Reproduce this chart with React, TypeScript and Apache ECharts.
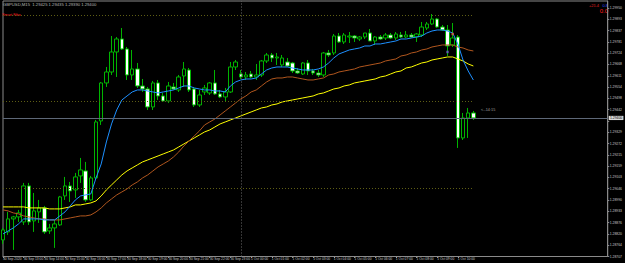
import React, { useEffect, useRef } from "react";
import * as echarts from "echarts";

// ---- data (GBPUSD, M15) ----
const tickLabels = [
  "30 Sep 2020", "30 Sep 13:00", "30 Sep 14:00", "30 Sep 15:00", "30 Sep 16:00", "30 Sep 17:00",
  "30 Sep 18:00", "30 Sep 19:00", "30 Sep 20:00", "30 Sep 21:00", "30 Sep 22:00", "30 Sep 23:00",
  "1 Oct 00:00", "1 Oct 01:00", "1 Oct 02:00", "1 Oct 03:00", "1 Oct 04:00", "1 Oct 05:00",
  "1 Oct 06:00", "1 Oct 07:00", "1 Oct 08:00", "1 Oct 09:00", "1 Oct 10:00",
];

const opens = [
  1.2879, 1.2883, 1.28895, 1.28905, 1.2888, 1.2906, 1.28885, 1.2893, 1.2895, 1.28835,
  1.2885, 1.28865, 1.2901, 1.2906, 1.2904, 1.2911, 1.29135, 1.2899, 1.2910, 1.29385,
  1.29575, 1.2963, 1.2973, 1.29795, 1.29745, 1.29615, 1.29645, 1.2956, 1.29545, 1.29455,
  1.29575, 1.2951, 1.29485, 1.29555, 1.2954, 1.2961, 1.2964, 1.29545, 1.29465, 1.2953,
  1.29525, 1.29575, 1.2952, 1.29505, 1.2953, 1.29655, 1.2962, 1.29605, 1.2962, 1.29605,
  1.29615, 1.29685, 1.29715, 1.2970, 1.29665, 1.2968, 1.29675, 1.29635, 1.2962, 1.29675,
  1.29635, 1.29625, 1.29615, 1.29725, 1.29725, 1.2981, 1.2978, 1.29805, 1.2981, 1.29795,
  1.29805, 1.29825, 1.29785, 1.29805, 1.2980, 1.29815, 1.2980, 1.29815, 1.29805, 1.29815,
  1.29805, 1.29815, 1.2985, 1.2987, 1.29895, 1.29855, 1.2984, 1.29765, 1.29805, 1.2930,
  1.2940, 1.29425,
];
const highs = [
  1.2885, 1.2893, 1.2891, 1.2894, 1.29075, 1.29075, 1.29025, 1.2899, 1.2896, 1.2887,
  1.2889, 1.2901, 1.29105, 1.2908, 1.29125, 1.2920, 1.2918, 1.2911, 1.2939, 1.2958,
  1.29655, 1.2981, 1.29805, 1.2985, 1.29755, 1.2974, 1.29675, 1.29595, 1.29555, 1.29585,
  1.2959, 1.29525, 1.2958, 1.29575, 1.29615, 1.2968, 1.2965, 1.29555, 1.2954, 1.29565,
  1.2958, 1.2964, 1.2954, 1.2955, 1.2968, 1.2969, 1.2964, 1.2963, 1.29635, 1.2967,
  1.2969, 1.29725, 1.29725, 1.29725, 1.29715, 1.2970, 1.2968, 1.2965, 1.2968, 1.2969,
  1.29645, 1.2964, 1.2973, 1.2974, 1.2982, 1.29825, 1.29825, 1.2983, 1.29815, 1.2981,
  1.29825, 1.29845, 1.2981, 1.29815, 1.29825, 1.29825, 1.2983, 1.2983, 1.29835, 1.29825,
  1.29825, 1.2988, 1.2988, 1.2992, 1.2990, 1.29865, 1.29865, 1.29875, 1.29815, 1.29425,
  1.2945, 1.29435,
];
const lows = [
  1.2877, 1.28815, 1.2874, 1.2888, 1.28865, 1.28865, 1.2883, 1.28875, 1.2882, 1.2882,
  1.2875, 1.2886, 1.2899, 1.2898, 1.2900, 1.29075, 1.2898, 1.28985, 1.2909, 1.29365,
  1.29555, 1.29615, 1.29605, 1.2974, 1.2959, 1.2959, 1.2955, 1.2953, 1.2944, 1.2944,
  1.2949, 1.2948, 1.29475, 1.2954, 1.2953, 1.29555, 1.2953, 1.29455, 1.29455, 1.29515,
  1.29515, 1.29515, 1.2950, 1.2948, 1.29525, 1.2964, 1.29595, 1.2959, 1.2960, 1.2959,
  1.29605, 1.29675, 1.2968, 1.29665, 1.29655, 1.29655, 1.29625, 1.2962, 1.29615, 1.29615,
  1.29615, 1.29605, 1.29605, 1.29705, 1.29715, 1.29775, 1.2977, 1.29775, 1.2978, 1.29785,
  1.29795, 1.29785, 1.29765, 1.2979, 1.2979, 1.29795, 1.2979, 1.2980, 1.2980, 1.2980,
  1.2978, 1.29805, 1.2984, 1.29865, 1.2985, 1.29835, 1.2971, 1.29755, 1.2925, 1.2929,
  1.2930, 1.2939,
];
const closes = [
  1.2884, 1.28895, 1.28905, 1.28925, 1.2906, 1.2888, 1.28935, 1.2895, 1.2883, 1.2885,
  1.2887, 1.29005, 1.2906, 1.29035, 1.29105, 1.2914, 1.2899, 1.2910, 1.2938, 1.29575,
  1.2963, 1.2973, 1.29795, 1.29745, 1.29615, 1.29645, 1.2956, 1.29545, 1.29455, 1.29575,
  1.2951, 1.29485, 1.2956, 1.29545, 1.29605, 1.29645, 1.2954, 1.29465, 1.29515, 1.2955,
  1.29575, 1.2952, 1.29505, 1.2953, 1.29655, 1.2968, 1.29605, 1.29615, 1.29605, 1.29615,
  1.29685, 1.29715, 1.2970, 1.29705, 1.2970, 1.2966, 1.29635, 1.29625, 1.29675, 1.29635,
  1.29625, 1.29615, 1.29725, 1.29715, 1.2981, 1.2978, 1.29815, 1.2981, 1.2980, 1.29805,
  1.29825, 1.29785, 1.29805, 1.29795, 1.29815, 1.2980, 1.2982, 1.29805, 1.29815, 1.29805,
  1.2982, 1.29855, 1.2987, 1.29895, 1.29855, 1.2984, 1.2976, 1.2980, 1.2930, 1.2940,
  1.29425, 1.2940,
];

// moving averages as drawn on the chart
const maFast = [
  1.2882, 1.28835, 1.2885, 1.2887, 1.28895, 1.28895, 1.28895, 1.28895, 1.2889, 1.2889,
  1.2889, 1.2891, 1.2893, 1.2896, 1.2899, 1.2901, 1.29015, 1.2902, 1.2910, 1.2917,
  1.2928, 1.2937, 1.2944, 1.2949, 1.2951, 1.2953, 1.2954, 1.2954, 1.29535, 1.2953,
  1.29525, 1.2953, 1.29535, 1.2954, 1.2955, 1.2956, 1.2956, 1.2955, 1.29545, 1.2954,
  1.2954, 1.29535, 1.29535, 1.2953, 1.2956, 1.2958, 1.2959, 1.29595, 1.29595, 1.2960,
  1.2962, 1.2964, 1.2965, 1.29655, 1.29655, 1.29655, 1.2965, 1.29645, 1.2964, 1.2964,
  1.2964, 1.29645, 1.29655, 1.29675, 1.2970, 1.2972, 1.2973, 1.2974, 1.29745, 1.2975,
  1.2976, 1.2976, 1.2977, 1.2977, 1.29775, 1.2978, 1.29785, 1.29795, 1.29795, 1.2980,
  1.29805, 1.2981, 1.29825, 1.29835, 1.2984, 1.2984, 1.29835, 1.29825, 1.2977, 1.2969,
  1.29635, 1.2959,
];
const maMid = [
  1.2894, 1.28935, 1.28925, 1.2892, 1.2891, 1.28905, 1.2890, 1.28895, 1.28895, 1.2889,
  1.2889, 1.2889, 1.28895, 1.2890, 1.28905, 1.2891, 1.2891, 1.28915, 1.2893, 1.2895,
  1.28975, 1.28995, 1.29015, 1.2903, 1.29045, 1.29065, 1.2908, 1.2910, 1.29115, 1.29135,
  1.29155, 1.2917, 1.29185, 1.29205, 1.2923, 1.2926, 1.29285, 1.2931, 1.29335, 1.29365,
  1.2938, 1.29395, 1.29415, 1.29435, 1.29455, 1.29475, 1.29495, 1.2951, 1.2953, 1.2954,
  1.2956, 1.2958, 1.29595, 1.2960, 1.2960, 1.29605, 1.29605, 1.2960, 1.29595, 1.2959,
  1.2959, 1.29595, 1.2960, 1.29615, 1.2962, 1.2963, 1.29635, 1.2964, 1.29645, 1.29655,
  1.2966, 1.29665, 1.2967, 1.29675, 1.29685, 1.2969, 1.29695, 1.2971, 1.29715, 1.29725,
  1.2973, 1.2974, 1.29745, 1.29755, 1.2976, 1.29765, 1.29765, 1.29765, 1.29755, 1.2975,
  1.2974, 1.29735,
];
const maSlow = [
  1.28955, 1.28955, 1.28955, 1.28955, 1.28955, 1.2895, 1.2895, 1.2895, 1.2895, 1.28945,
  1.28945, 1.28945, 1.2895, 1.28955, 1.28965, 1.28965, 1.2897, 1.28975, 1.28985, 1.2901,
  1.2904, 1.29065, 1.2909, 1.29115, 1.29135, 1.2915, 1.29165, 1.2918, 1.2919, 1.2920,
  1.2921, 1.2922, 1.2923, 1.2924, 1.29255, 1.2927, 1.29285, 1.2930, 1.29315, 1.2933,
  1.2934, 1.29355, 1.2937, 1.2938, 1.2939, 1.2940, 1.2941, 1.2942, 1.2943, 1.2944,
  1.2945, 1.29455, 1.29465, 1.2947, 1.2948, 1.29485, 1.2949, 1.29495, 1.2950, 1.29505,
  1.2951, 1.2952, 1.29525, 1.29535, 1.29545, 1.2955, 1.2956, 1.29565, 1.29575, 1.2958,
  1.29585, 1.2959, 1.29595, 1.29605, 1.2961, 1.2962, 1.2963, 1.29635, 1.2965, 1.29655,
  1.29665, 1.29675, 1.2968, 1.2969, 1.29695, 1.2970, 1.29705, 1.29705, 1.29695, 1.29685,
  1.2967, 1.2966,
];

const levelPrices = [1.29915, 1.29485, 1.2905];
const currentPrice = 1.294;
const separatorIndex = 46;
const arrowDown = [[86, 1.2973]];
const arrowUp = [[87, 1.2982]];
const totalSlots = 118;
const yMin = 1.28707;
const yMax = 1.29985;
const yStep = 0.000565;

const titleText = "GBPUSD,M15  1.29425 1.29435 1.29390 1.29400";
const FONT = "Liberation Sans";

export default function App() {
  const ref = useRef<HTMLDivElement>(null);
  useEffect(() => {
    if (!ref.current) return;
    const chart = echarts.init(ref.current, null, { renderer: "svg" });
    const cats = Array.from({ length: totalSlots }, (_, i) => String(i));
    const candles = opens.map((o, i) => [o, closes[i], lows[i], highs[i]]);
    const lastIdx = opens.length - 1;
    const labelIdx = (i: number) => i % 4 === 0 && i / 4 < tickLabels.length;
    const txt = { fontFamily: FONT };

    chart.setOption({
      animation: false,
      backgroundColor: "#000000",
      grid: {
        left: 1.7,
        right: 15,
        top: 1,
        bottom: 6.5,
        show: true,
        borderColor: "#8a8a8a",
        borderWidth: 1,
        backgroundColor: "#000000",
      },
      xAxis: {
        type: "category",
        data: cats,
        boundaryGap: false,
        axisLine: { show: true, lineStyle: { color: "#8a8a8a", width: 1 } },
        axisTick: { show: true, interval: (i: number) => labelIdx(i), length: 1.5, lineStyle: { color: "#8a8a8a" } },
        axisLabel: {
          interval: (i: number) => labelIdx(i),
          formatter: (_v: string, i: number) => (labelIdx(i) ? tickLabels[i / 4] : ""),
          fontSize: 3.3,
          color: "#c8c8c8",
          align: "left",
          margin: 1.2,
          ...txt,
        },
        splitLine: { show: false },
      },
      yAxis: {
        type: "value",
        position: "right",
        min: yMin,
        max: yMax,
        interval: yStep,
        axisLine: { show: true, lineStyle: { color: "#8a8a8a", width: 1 } },
        axisTick: { show: true, length: 1.5, lineStyle: { color: "#8a8a8a" } },
        axisLabel: {
          fontSize: 3.4,
          color: "#c8c8c8",
          margin: 2,
          showMaxLabel: false,
          formatter: (v: number) => (Math.abs(v - currentPrice) < yStep * 0.6 ? "" : v.toFixed(5)),
          ...txt,
        },
        splitLine: { show: false },
      },
      series: [
        {
          type: "candlestick",
          data: candles,
          barWidth: 4,
          itemStyle: {
            color: "#000000",
            color0: "#ffffff",
            borderColor: "#00b400",
            borderColor0: "#00b400",
            borderWidth: 1,
          },
        },
        {
          type: "line",
          data: maSlow,
          symbol: "none",
          lineStyle: { color: "#ffff00", width: 1 },
          z: 3,
        },
        {
          type: "line",
          data: maMid,
          symbol: "none",
          lineStyle: { color: "#b0561e", width: 1 },
          z: 3,
        },
        {
          type: "line",
          data: maFast,
          symbol: "none",
          lineStyle: { color: "#1e90ff", width: 1 },
          z: 3,
          markLine: {
            silent: true,
            precision: 5,
            symbol: ["none", "none"],
            animation: false,
            data: [
              {
                yAxis: currentPrice,
                lineStyle: { color: "#5e6878", width: 1, type: "solid" },
                label: {
                  show: true,
                  position: "end",
                  distance: 1,
                  formatter: currentPrice.toFixed(5),
                  fontSize: 3.4,
                  color: "#000000",
                  backgroundColor: "#d8d8d8",
                  padding: [0.6, 1.2],
                  ...txt,
                },
              },
              ...levelPrices.map((p) => [
                {
                  coord: [0, p],
                  lineStyle: { color: "#5e5e14", width: 1, type: [1, 2] },
                  label: { show: false },
                },
                { coord: [lastIdx, p] },
              ]),
              {
                xAxis: separatorIndex,
                lineStyle: { color: "#6a6a6a", width: 1, type: [1, 2] },
                label: { show: false },
              },
            ],
          },
        },
        {
          type: "scatter",
          data: arrowDown,
          symbol: "rect",
          symbolSize: 2.5,
          itemStyle: { color: "#6a5acd" },
          z: 4,
        },
        {
          type: "scatter",
          data: arrowUp,
          symbol: "rect",
          symbolSize: 2.5,
          itemStyle: { color: "#e0603a" },
          z: 4,
        },
      ],
      graphic: [
        { type: "text", left: 3, top: 2, style: { text: titleText, fill: "#b8b8b8", fontSize: 4.2, ...txt } },
        { type: "text", left: 2, top: 12.5, style: { text: "Smart Fibo", fill: "#ff2020", fontSize: 3.8, ...txt } },
        { type: "text", right: 26, top: 3, style: { text: "+21.4", fill: "#e02020", fontSize: 4, ...txt } },
        { type: "text", right: 17, top: 3, style: { text: "0.8", fill: "#3050ff", fontSize: 4, ...txt } },
        { type: "text", right: 17, top: 8, style: { text: "0.0", fill: "#ff1a1a", fontSize: 6, ...txt } },
        { type: "text", left: 481, top: 108, style: { text: "<--14:15", fill: "#a0a0a0", fontSize: 3.8, ...txt } },
      ],
    });
    return () => chart.dispose();
  }, []);

  return (
    <div
      ref={ref}
      style={{ position: "fixed", left: 0, top: 0, width: 625, height: 263, background: "#000" }}
    />
  );
}
